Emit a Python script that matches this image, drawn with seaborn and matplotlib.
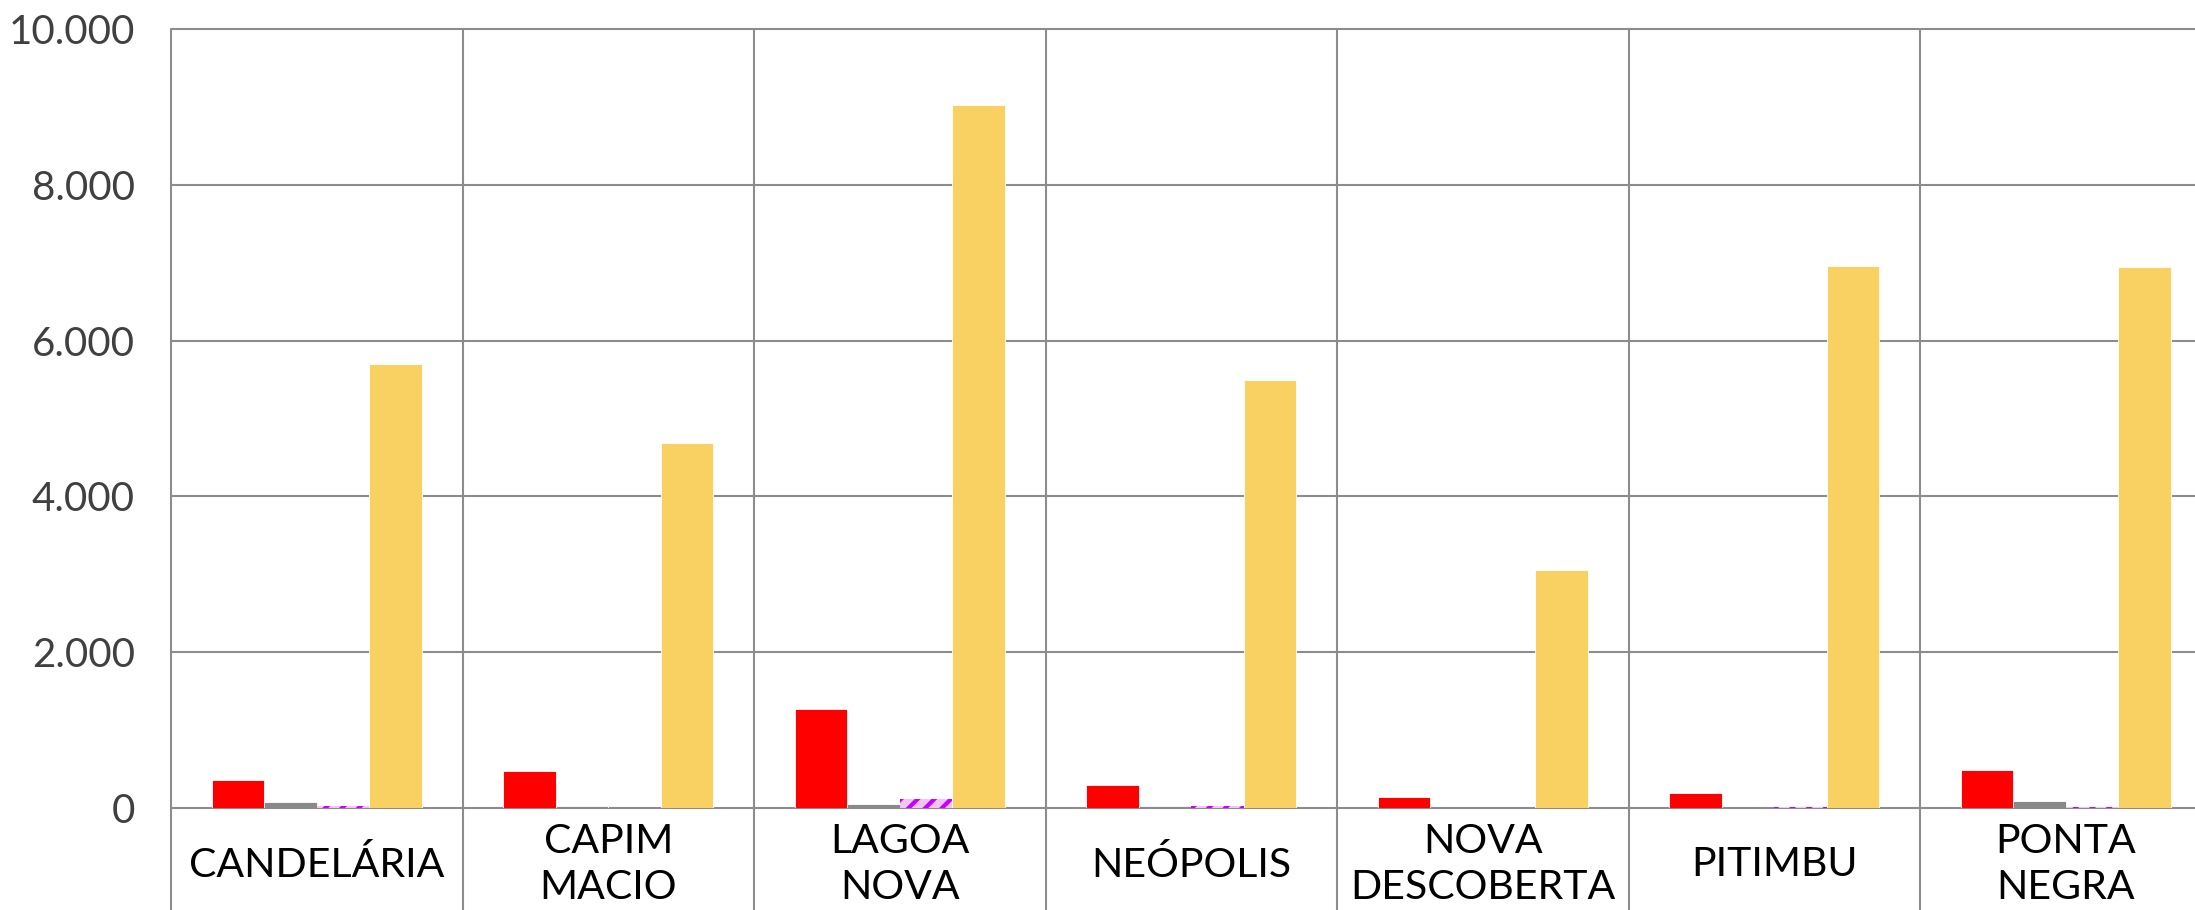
import matplotlib
matplotlib.use("Agg")
import matplotlib.pyplot as plt
import seaborn as sns
import pandas as pd
import numpy as np

categories = ["CANDELÁRIA", "CAPIM\nMACIO", "LAGOA\nNOVA", "NEÓPOLIS",
              "NOVA\nDESCOBERTA", "PITIMBU", "PONTA\nNEGRA"]
series_names = ["Série 1", "Série 2", "Série 3", "Série 4"]
serie1 = [360, 479, 1267, 295, 137, 193, 488]
serie2 = [73, 30, 50, 25, 0, 0, 90]
serie3 = [25, 0, 120, 25, 0, 15, 15]
serie4 = [5700, 4686, 9020, 5500, 3051, 6961, 6941]
y_ticks = [0, 2000, 4000, 6000, 8000, 10000]

colors = ["#ff0000", "#898989", "#f3c4f5", "#f9d062"]

rows = []
for name, vals in zip(series_names, [serie1, serie2, serie3, serie4]):
    for c, v in zip(categories, vals):
        rows.append({"bairro": c, "serie": name, "valor": v})
df = pd.DataFrame(rows)

sns.set_theme(style="white")
plt.rcParams["font.family"] = ["Lato", "DejaVu Sans"]
plt.rcParams["hatch.linewidth"] = 3.0

W, H = 2195, 910
fig = plt.figure(figsize=(W / 100, H / 100), dpi=100)
left, top, zero = 171, 29, 808
cat_w = 291.5
ax = fig.add_axes([left / W, 1 - zero / H, 7 * cat_w / W, (zero - top) / H])

sns.barplot(data=df, x="bairro", y="valor", hue="serie", order=categories,
            hue_order=series_names, palette=colors, saturation=1,
            width=0.72, gap=0, edgecolor="white", linewidth=0.6, ax=ax,
            legend=False)

# hatch the third series
for bar in ax.containers[2]:
    bar.set_hatch("//")
    bar.set_edgecolor("#c800ff")
    bar.set_linewidth(0)
    bar.set_facecolor("#f3c4f5")

ax.set_ylim(0, 10000)
ax.set_xlim(-0.5, len(categories) - 0.5)
ax.set_yticks(y_ticks)
ax.set_yticklabels([f"{v:,.0f}".replace(",", ".") for v in y_ticks],
                   fontsize=29, color="#404040")
ax.tick_params(axis="y", length=0, pad=26)
ax.tick_params(axis="x", length=0, pad=41)
ax.set_xticks(range(len(categories)))
ax.set_xticklabels(categories, fontsize=29.5, color="black",
                   linespacing=1.3, multialignment="center")
for lbl in ax.get_xticklabels():
    lbl.set_va("center")
ax.set_xlabel("")
ax.set_ylabel("")
for s in ax.spines.values():
    s.set_visible(False)

grid_color = "#8c8c8c"
for yv in y_ticks:
    ax.axhline(yv, color=grid_color, lw=1.5, zorder=0.5, clip_on=False)
# category separator lines, extending down through the label area
ax.vlines(np.arange(len(categories) + 1) - 0.5, -2500, 10000,
          color=grid_color, lw=1.5, zorder=0.5, clip_on=False)

fig.savefig("out.png", dpi=100)
